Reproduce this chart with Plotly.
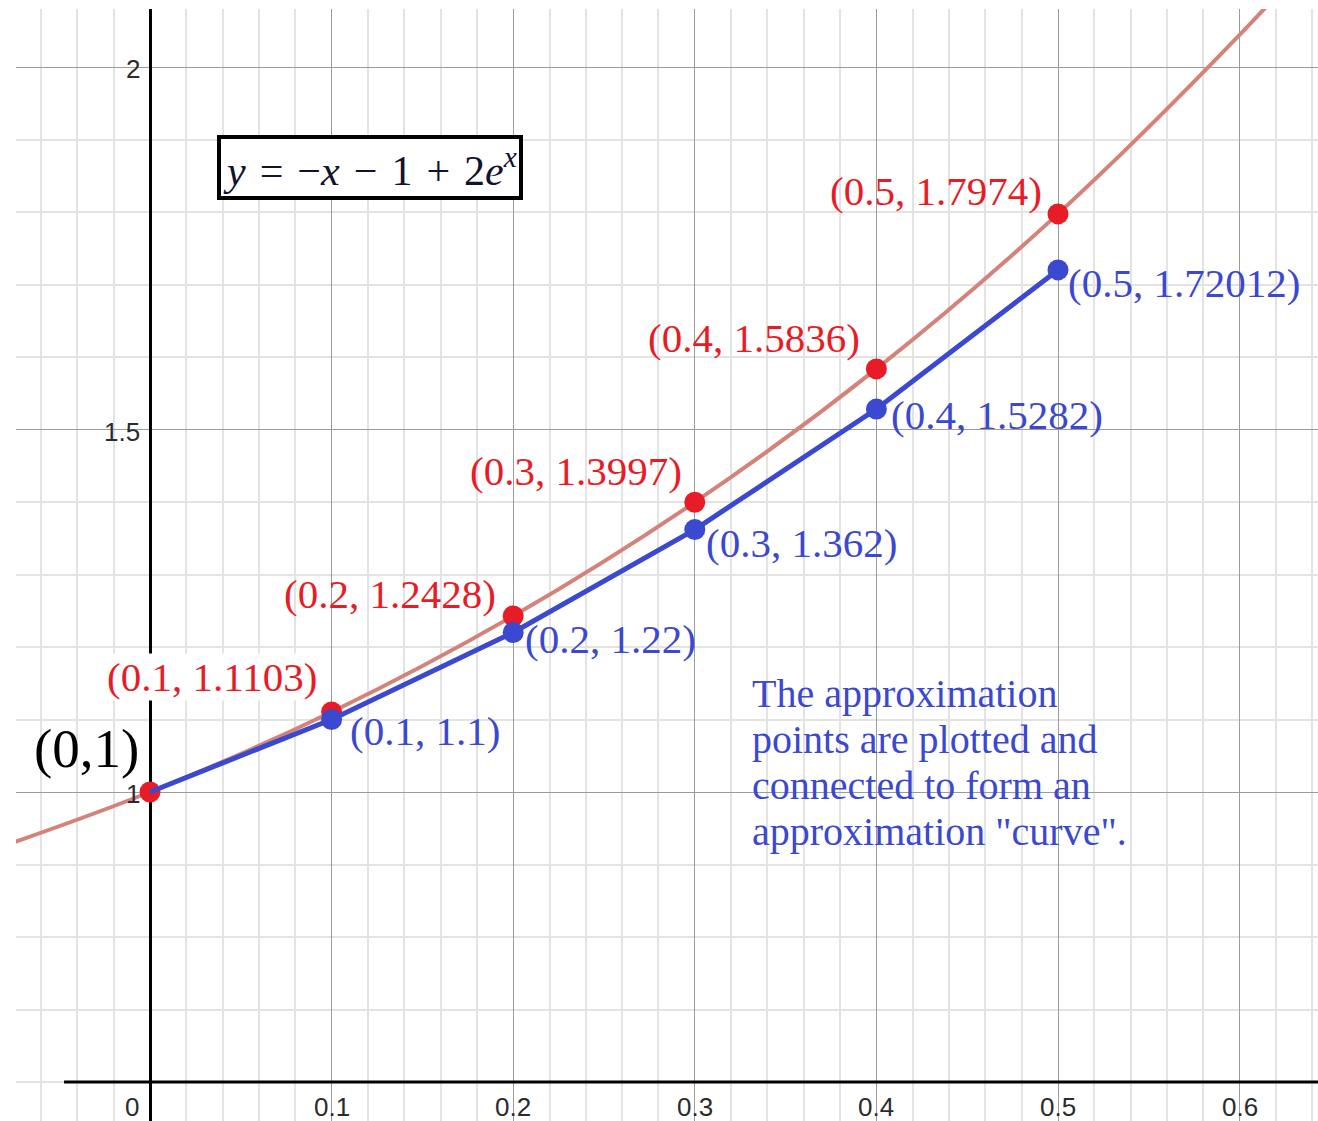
import plotly.graph_objects as go

# Exact solution y = -x - 1 + 2e^x, sampled at the step points and a little beyond
curve_x = [-0.08, 0.0, 0.1, 0.2, 0.3, 0.4, 0.5, 0.6, 0.65]
curve_y = [0.9262, 1.0, 1.1103, 1.2428, 1.3997, 1.5836, 1.7974, 2.0442, 2.1811]

# Exact values at the step points
exact_x = [0.0, 0.1, 0.2, 0.3, 0.4, 0.5]
exact_y = [1.0, 1.1103, 1.2428, 1.3997, 1.5836, 1.7974]
exact_labels = ["(0.1, 1.1103)", "(0.2, 1.2428)", "(0.3, 1.3997)",
                "(0.4, 1.5836)", "(0.5, 1.7974)"]

# Euler approximation points (h = 0.1)
euler_x = [0.0, 0.1, 0.2, 0.3, 0.4, 0.5]
euler_y = [1.0, 1.1, 1.22, 1.362, 1.5282, 1.72012]
euler_labels = ["(0.1, 1.1)", "(0.2, 1.22)", "(0.3, 1.362)",
                "(0.4, 1.5282)", "(0.5, 1.72012)"]

x_ticks = [0.1, 0.2, 0.3, 0.4, 0.5, 0.6]
x_tick_text = ["0.1", "0.2", "0.3", "0.4", "0.5", "0.6"]
y_ticks = [1.0, 1.5, 2.0]
y_tick_text = ["1", "1.5", "2"]

note_lines = ["The approximation", "points are plotted and",
              "connected to form an", "approximation \"curve\"."]

RED = "#e81c26"
BLUE = "#3b48d0"
CURVE = "#d4837b"
SERIF = "Liberation Serif, Times New Roman, serif"
SANS = "Liberation Sans, Arial, sans-serif"

X_RANGE = [-0.07379, 0.64317]
Y_RANGE = [0.5462, 2.08]
AXIS_Y = 0.6

fig = go.Figure()

fig.add_trace(go.Scatter(x=curve_x, y=curve_y, mode="lines",
                         line=dict(color=CURVE, width=4, shape="spline", smoothing=1.0),
                         hoverinfo="skip"))
fig.add_trace(go.Scatter(x=exact_x, y=exact_y, mode="markers",
                         marker=dict(color=RED, size=21)))
fig.add_trace(go.Scatter(x=euler_x, y=euler_y, mode="lines",
                         line=dict(color=BLUE, width=5)))
fig.add_trace(go.Scatter(x=euler_x[1:], y=euler_y[1:], mode="markers",
                         marker=dict(color=BLUE, size=21)))

annotations = []

# point labels for the exact solution (above-left of each dot)
red_shift = [(-14, 35), (-16, 22), (-12, 31), (-15, 31), (-15, 23)]
for i, (xv, yv, txt) in enumerate(zip(exact_x[1:], exact_y[1:], exact_labels)):
    dx, dy = red_shift[i]
    ann = dict(x=xv, y=yv, text=txt, showarrow=False,
               xanchor="right", yanchor="middle", xshift=dx, yshift=dy,
               font=dict(family=SERIF, size=41, color=RED), borderpad=0)
    if i == 0:
        ann["bgcolor"] = "white"
    annotations.append(ann)

# point labels for the Euler approximation (below-right of each dot)
blue_shift = [(16, -11), (10, -6), (9, -13), (13, -6), (8, -13)]
for i, (xv, yv, txt) in enumerate(zip(euler_x[1:], euler_y[1:], euler_labels)):
    dx, dy = blue_shift[i]
    annotations.append(dict(x=xv, y=yv, text=txt, showarrow=False,
                            xanchor="left", yanchor="middle", xshift=dx, yshift=dy,
                            font=dict(family=SERIF, size=41, color=BLUE)))

# initial condition label
annotations.append(dict(x=exact_x[0], y=exact_y[0], text="(0,1)", showarrow=False,
                        xanchor="right", yanchor="middle", xshift=-9, yshift=44,
                        font=dict(family=SERIF, size=55, color="black")))

# equation box (three-per-em spaces around the operators)
sp = "\u2004"
eq_text = (f"<i>y</i>{sp}={sp}−<i>x</i>{sp}−{sp}1{sp}+{sp}2<i>e</i>"
           "<sup><i>x</i></sup>")
annotations.append(dict(x=0.1211, y=1.8607, showarrow=False, text=eq_text,
                        font=dict(family=SERIF, size=42, color="#12122e"),
                        bgcolor="white", bordercolor="black", borderwidth=4, borderpad=2))

# explanatory note
for i, line in enumerate(note_lines):
    annotations.append(dict(x=0.3304, y=1.1352, text=line, showarrow=False,
                            xanchor="left", yanchor="middle", yshift=-46 * i,
                            font=dict(family=SERIF, size=40, color=BLUE)))

# tick labels placed next to the drawn axes
for v, t in zip(x_ticks, x_tick_text):
    annotations.append(dict(x=v, y=AXIS_Y, text=t, showarrow=False,
                            xanchor="center", yanchor="middle", yshift=-25,
                            font=dict(family=SANS, size=26, color="#2b2b2b")))
annotations.append(dict(x=0, y=AXIS_Y, text="0", showarrow=False,
                        xanchor="right", yanchor="middle", xshift=-9, yshift=-25,
                        font=dict(family=SANS, size=26, color="#2b2b2b")))
for v, t in zip(y_ticks, y_tick_text):
    annotations.append(dict(x=0, y=v, text=t, showarrow=False,
                            xanchor="right", yanchor="middle", xshift=-8, yshift=-2,
                            font=dict(family=SANS, size=26, color="#2b2b2b")))

fig.update_layout(
    width=1318, height=1121, autosize=False,
    margin=dict(l=16, r=0, t=9, b=0),
    paper_bgcolor="white", plot_bgcolor="white",
    showlegend=False,
    annotations=annotations,
    shapes=[dict(type="line", xref="paper", yref="y", x0=0.0369, x1=1,
                 y0=AXIS_Y, y1=AXIS_Y, line=dict(color="black", width=3), layer="above")],
    xaxis=dict(range=X_RANGE, tick0=0, dtick=0.1, showgrid=True,
               gridcolor="#9c9c9c", gridwidth=1.3,
               minor=dict(tick0=0, dtick=0.02, showgrid=True, gridcolor="#e3e3e3", gridwidth=1.6),
               zeroline=True, zerolinecolor="black", zerolinewidth=3,
               showticklabels=False, ticks="", showline=False, fixedrange=True),
    yaxis=dict(range=Y_RANGE, tick0=0, dtick=0.5, showgrid=True,
               gridcolor="#9c9c9c", gridwidth=1.3,
               minor=dict(tick0=0, dtick=0.1, showgrid=True, gridcolor="#e3e3e3", gridwidth=1.6),
               zeroline=False, showticklabels=False, ticks="", showline=False, fixedrange=True),
)

fig.write_html("out.html", config={"displayModeBar": False})
